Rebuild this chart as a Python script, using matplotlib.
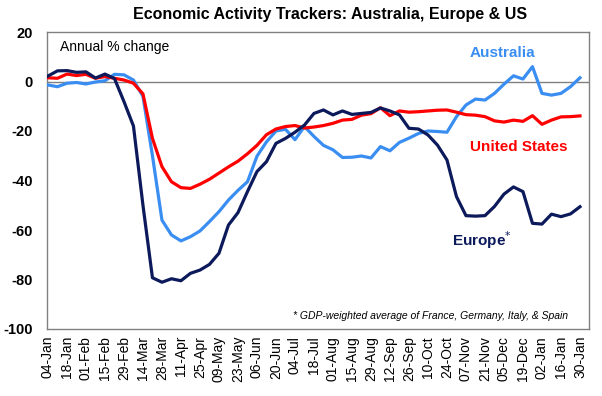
import matplotlib
matplotlib.use("Agg")
import matplotlib.pyplot as plt
import numpy as np

plt.rcParams['font.family'] = ['Liberation Sans', 'DejaVu Sans']

# weekly readings, 04-Jan to 30-Jan of the following year (annual % change)
australia = [-1.4, -2.1, -0.7, -0.4, -1.0, -0.2, 0.3, 2.9, 2.7, 0.6,
             -6.0, -30.0, -56.0, -62.0, -64.4, -62.7, -60.4, -56.6, -52.6, -47.9,
             -44.0, -40.5, -30.2, -24.4, -20.0, -19.3, -23.5, -18.2, -22.2, -25.8,
             -27.6, -30.7, -30.6, -30.1, -30.9, -26.3, -28.0, -24.6, -22.9, -21.0,
             -20.0, -20.2, -20.5, -14.2, -9.5, -7.1, -7.5, -4.8, -1.1, 2.3,
             1.0, 6.0, -4.8, -5.5, -4.8, -2.1, 1.5]
united_states = [1.5, 1.3, 3.0, 2.4, 2.9, 1.3, 2.0, 1.3, 0.6, -0.7,
                 -5.0, -23.0, -34.4, -40.5, -42.9, -43.2, -41.5, -39.5, -37.0, -34.5,
                 -32.2, -29.2, -25.8, -21.5, -19.2, -18.2, -17.8, -18.8, -18.4, -17.8,
                 -16.9, -15.6, -15.3, -13.6, -13.0, -10.6, -13.8, -11.9, -12.4, -12.2,
                 -11.9, -11.6, -11.5, -12.4, -13.4, -13.6, -14.2, -15.9, -16.4, -15.6,
                 -16.1, -13.8, -17.3, -15.6, -14.3, -14.2, -13.9]
europe = [2.2, 4.3, 4.4, 3.7, 3.9, 1.4, 3.0, 1.2, -8.1, -18.0,
          -50.0, -79.3, -81.1, -79.7, -80.5, -77.5, -76.2, -73.9, -69.4, -58.0,
          -53.0, -44.5, -36.4, -32.4, -25.0, -23.0, -20.5, -17.6, -12.9, -11.5,
          -13.5, -11.9, -13.3, -12.9, -12.5, -10.7, -11.9, -13.5, -18.9, -19.2,
          -21.6, -25.7, -31.7, -46.5, -54.2, -54.4, -54.2, -50.5, -45.5, -42.6,
          -44.5, -57.3, -57.6, -53.6, -54.6, -53.5, -50.6]

tick_labels = ['04-Jan', '18-Jan', '01-Feb', '15-Feb', '29-Feb', '14-Mar', '28-Mar',
               '11-Apr', '25-Apr', '09-May', '23-May', '06-Jun', '20-Jun', '04-Jul',
               '18-Jul', '01-Aug', '15-Aug', '29-Aug', '12-Sep', '26-Sep', '10-Oct',
               '24-Oct', '07-Nov', '21-Nov', '05-Dec', '19-Dec', '02-Jan', '16-Jan',
               '30-Jan']

c_aus = '#3a8ef2'
c_us = '#ff0000'
c_eur = '#0c1a5c'

W, H = 602, 396
fig = plt.figure(figsize=(W / 100, H / 100), dpi=100)
ax = fig.add_axes([47 / W, 1 - 329 / H, (589 - 47) / W, (329 - 32) / H])

weeks = np.arange(len(europe))
ax.axhline(0, color='#808080', lw=1.0, zorder=1)
ax.plot(weeks, australia, color=c_aus, lw=2.3, zorder=3)
ax.plot(weeks, united_states, color=c_us, lw=2.3, zorder=3)
ax.plot(weeks, europe, color=c_eur, lw=2.3, zorder=4)

ax.set_xlim(-0.1, 56.95)
ax.set_ylim(-100, 20)
ax.set_yticks(range(-100, 21, 20))
ax.set_yticklabels([str(v) for v in range(-100, 21, 20)], fontweight='bold', fontsize=10.5)
ax.set_xticks(weeks[::2])
ax.set_xticklabels(tick_labels, rotation=90, fontsize=10)
ax.tick_params(axis='y', length=0, pad=10)
ax.tick_params(axis='x', length=0, pad=5)
for s in ax.spines.values():
    s.set_color('#808080')
    s.set_linewidth(1.0)

fig.text(330 / W, 1 - 15 / H, 'Economic Activity Trackers: Australia, Europe & US',
         ha='center', va='center', fontsize=11.5, fontweight='bold')
fig.text(60 / W, 1 - 47 / H, 'Annual % change', ha='left', va='center', fontsize=10)
fig.text(470 / W, 1 - 53 / H, 'Australia', ha='left', va='center', fontsize=11,
         fontweight='bold', color=c_aus)
fig.text(470 / W, 1 - 147 / H, 'United States', ha='left', va='center', fontsize=11,
         fontweight='bold', color=c_us)
fig.text(452 / W, 1 - 240 / H, 'Europe$^{*}$', ha='left', va='center', fontsize=11,
         fontweight='bold', color=c_eur)
fig.text(568 / W, 1 - 316 / H, '* GDP-weighted average of France, Germany, Italy, & Spain',
         ha='right', va='center', fontsize=7.5, style='italic')

fig.savefig('out.png', dpi=100)
